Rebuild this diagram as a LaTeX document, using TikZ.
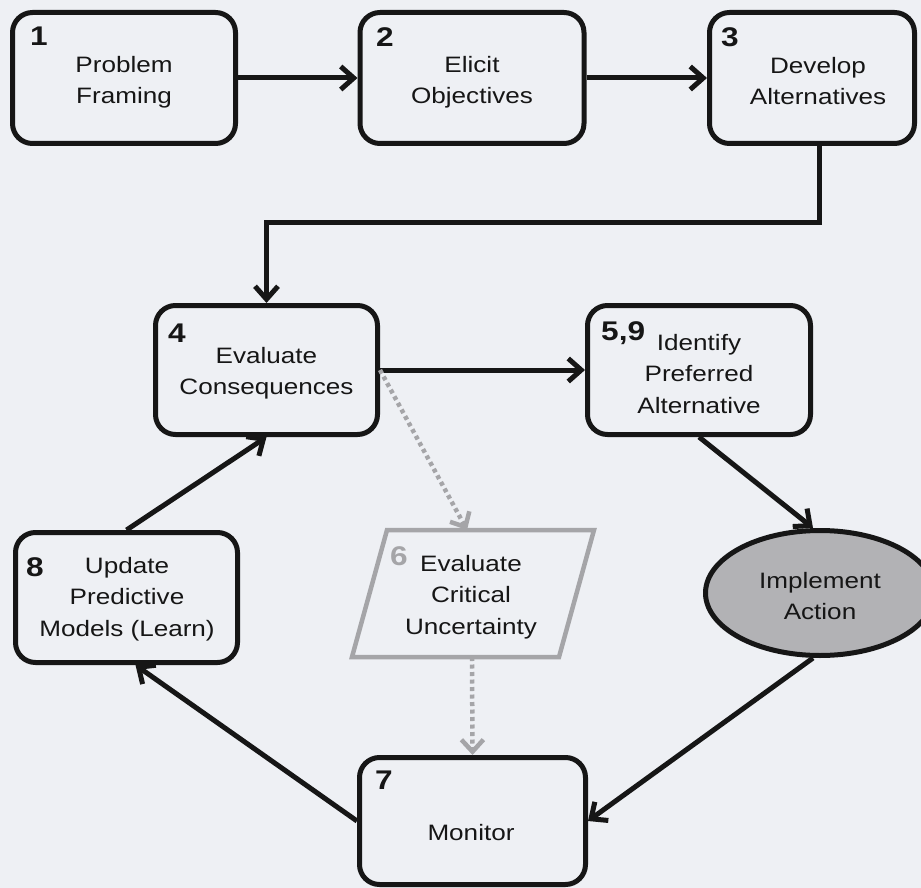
\documentclass[tikz,border=0pt]{standalone}
\usepackage{fontspec}
\setmainfont{Liberation Sans}[FakeStretch=1.17]
\usetikzlibrary{arrows.meta,shapes.geometric}
\definecolor{bgc}{RGB}{238,240,244}
\definecolor{ink}{RGB}{22,22,22}
\definecolor{pgray}{RGB}{165,165,168}
\definecolor{egray}{RGB}{178,178,181}
\begin{document}
\begin{tikzpicture}[x=1pt,y=-1pt,
  box/.style={draw=ink,line width=5pt,rounded corners=20pt,inner sep=0pt},
  lbl/.style={align=center,font=\fontsize{22.3}{31.5}\selectfont,text=ink,inner sep=0pt},
  num/.style={anchor=north west,font=\bfseries\fontsize{27}{27}\selectfont,text=ink,inner sep=0pt},
  arr/.style={draw=ink,line width=5pt,-{Straight Barb[length=13pt,width=23pt]}},
  dotarr/.style={draw=pgray,line width=4.5pt,dash pattern=on 4pt off 3.5pt,-{Straight Barb[length=12pt,width=22pt]}}]
\useasboundingbox (0,0) rectangle (921,888);
\fill[bgc] (0,0) rectangle (921,888);

% boxes
\node[box,minimum width=223pt,minimum height=131pt] (b1) at (124,78) {};
\node[box,minimum width=224pt,minimum height=131pt] (b2) at (472,78) {};
\node[box,minimum width=205pt,minimum height=131pt] (b3) at (812,78) {};
\node[box,minimum width=222pt,minimum height=129pt] (b4) at (266.5,370) {};
\node[box,minimum width=223pt,minimum height=129pt] (b5) at (699,370) {};
\node[box,minimum width=222pt,minimum height=130pt] (b8) at (126.5,597.5) {};
\node[box,minimum width=226pt,minimum height=127pt] (b7) at (472.5,821) {};
\node[ellipse,draw=ink,fill=egray,line width=5pt,inner sep=0pt,minimum width=229pt,minimum height=125pt] (ell) at (820,593) {};

% parallelogram 6
\draw[pgray,line width=4.5pt] (387,530) -- (594,530) -- (559,657) -- (352,657) -- cycle;
\coordinate (p6n) at (467,530);
\coordinate (p6s) at (472,657);

% labels
\node[lbl] (t1) at (124,82) {Problem\\Framing};
\node[lbl] (t2) at (472,82) {Elicit\\Objectives};
\node[lbl] (t3) at (818,81) {Develop\\Alternatives};
\node[lbl] (t4) at (266.5,373) {Evaluate\\Consequences};
\node[lbl] (t5) at (699,374) {Identify\\Preferred\\Alternative};
\node[lbl] (t8) at (127,599) {Update\\Predictive\\Models (Learn)};
\node[lbl] (t7) at (471,833) {Monitor};
\node[lbl] (t6) at (471,597) {Evaluate\\Critical\\Uncertainty};
\node[lbl] (te) at (820,596) {Implement\\Action};

% numbers
\node[num] (n1) at (30,27) {1};
\node[num] (n2) at (376,27) {2};
\node[num] (n3) at (721,27) {3};
\node[num] (n4) at (168,324) {4};
\node[num] (n5) at (601,321) {5,9};
\node[num] (n8) at (26,557) {8};
\node[num] (n7) at (375,771) {7};
\node[num,text=pgray] (n6) at (390,546) {6};

% connectors
\draw[arr] (b1.east) -- (b2.west);
\draw[arr] (b2.east) -- (b3.west);
\draw[arr] ([xshift=7pt]b3.south) -- ++(0,76) -| (b4.north);
\draw[arr] (b4.east) -- (b5.west);
\draw[arr] (b5.south) -- ([xshift=-7pt]ell.north);
\draw[arr] ([xshift=-7pt]ell.south) -- (b7.east);
\draw[arr] (b7.west) -- ([xshift=9pt]b8.south);
\draw[arr] (b8.north) -- (b4.south);
\draw[dotarr] (b4.east) -- (p6n);
\draw[dotarr] (p6s) -- (b7.north);
\end{tikzpicture}
\end{document}
